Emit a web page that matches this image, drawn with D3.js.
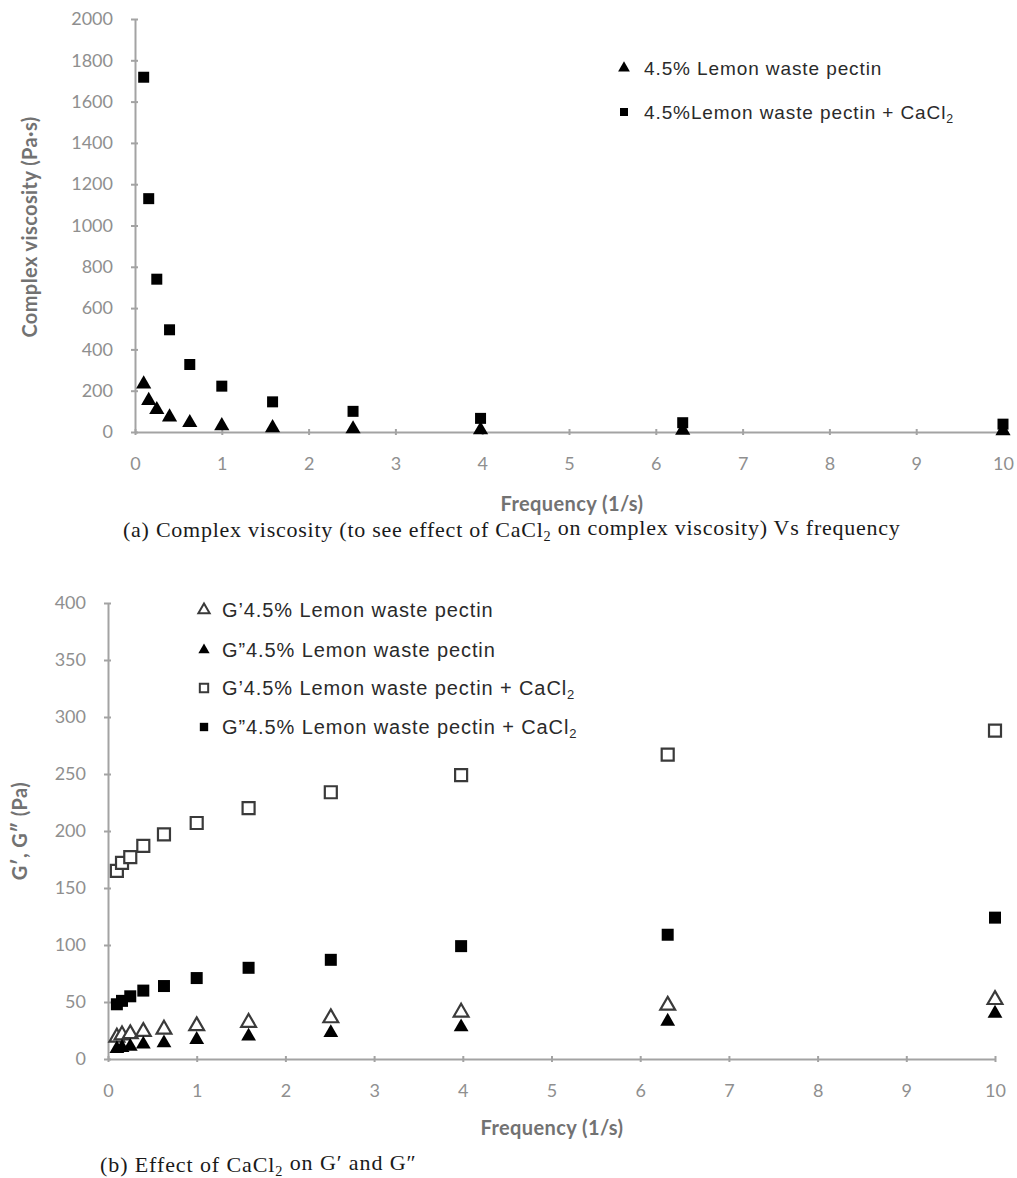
<!DOCTYPE html>
<html>
<head>
<meta charset="utf-8">
<script src="https://cdn.jsdelivr.net/npm/d3@7"></script>
<style>
  body { margin: 0; background: #fff; }
  .tick text { font-family: Lato, "Liberation Sans", sans-serif; font-size: 18px; fill: #8f8f8f; }
  .domain, .tick line { stroke: #a3a3a3; stroke-width: 2; }
</style>
</head>
<body>
<div id="canvas"></div>
<script>
// frequency sweep (1/s)
const frequency = [0.1, 0.158, 0.251, 0.398, 0.631, 1, 1.585, 2.512, 3.981, 6.31, 10];

// (a) complex viscosity, Pa·s
const viscPectin = [232, 152, 108, 72, 45, 30, 20, 15, 10, 8, 6];
const viscPectinCaCl2 = [1718, 1130, 740, 495, 327, 222, 146, 100, 66, 45, 38];

// (b) moduli, Pa
const gPrimePectin = [19, 21, 22, 24, 26, 29, 32, 36, 41, 47, 52];
const gDoublePectin = [9, 10, 11, 13, 14, 17, 20, 23, 28, 33, 40];
const gPrimeCaCl2 = [165, 172, 177, 187, 197, 207, 220, 234, 249, 267, 288];
const gDoubleCaCl2 = [48, 51, 55, 60, 64, 71, 80, 87, 99, 109, 124];

const freqTicks = [0, 1, 2, 3, 4, 5, 6, 7, 8, 9, 10];
const viscTicks = [0, 200, 400, 600, 800, 1000, 1200, 1400, 1600, 1800, 2000];
const modulusTicks = [0, 50, 100, 150, 200, 250, 300, 350, 400];

const svg = d3.select("#canvas").append("svg")
    .attr("width", 1017)
    .attr("height", 1178);

const tri = d3.symbol().type(d3.symbolTriangle);
const sq = d3.symbol().type(d3.symbolSquare);

function drawAxes(x, y, xTicks, yTicks) {
    const x0 = x.range()[0], y0 = y.range()[0];

    const gx = svg.append("g")
        .attr("transform", `translate(0,${y0})`)
        .call(d3.axisBottom(x).tickValues(xTicks).tickFormat(d3.format("d"))
            .tickSize(4).tickSizeOuter(0).tickPadding(21));
    gx.selectAll(".tick line").attr("y1", -3).attr("y2", 3);

    const gy = svg.append("g")
        .attr("transform", `translate(${x0},0)`)
        .call(d3.axisLeft(y).tickValues(yTicks).tickFormat(d3.format("d"))
            .tickSize(4).tickSizeOuter(0).tickPadding(18));
    gy.selectAll(".tick line").attr("x1", -4).attr("x2", 3);
}

function drawPoints(x, y, values, shape, size, open) {
    svg.append("g").selectAll("path")
        .data(values)
        .enter()
        .append("path")
        .attr("transform", (d, i) => `translate(${x(frequency[i])},${y(d)})`)
        .attr("d", shape.size(size)())
        .attr("fill", open ? "#fff" : "#000")
        .attr("stroke", open ? "#3a3a3a" : "none")
        .attr("stroke-width", 2.2);
}

// text with a CaCl2 subscript
function addLabel(g, pre, sub, post) {
    g.append("tspan").text(pre);
    if (sub) {
        g.append("tspan").attr("font-size", "0.65em").attr("dy", "0.3em").text(sub);
        g.append("tspan").attr("dy", "-0.3em").text(post || "");
    }
    return g;
}

function axisTitle(x, y, rotate, label) {
    svg.append("text")
        .attr("transform", `translate(${x},${y})` + (rotate ? " rotate(-90)" : ""))
        .attr("text-anchor", "middle")
        .style("font-family", "Lato, sans-serif")
        .style("font-size", "20px")
        .style("font-weight", "bold")
        .style("letter-spacing", "0.4px")
        .style("fill", "#727272")
        .text(label);
}

// ---------- (a) complex viscosity ----------
const xA = d3.scaleLinear().domain([0, 10]).range([135, 1003]);
const yA = d3.scaleLinear().domain([0, 2000]).range([432, 19]);

drawAxes(xA, yA, freqTicks, viscTicks);
drawPoints(xA, yA, viscPectin, tri, 100, false);
drawPoints(xA, yA, viscPectinCaCl2, sq, 121, false);

axisTitle(37, 227, true, "Complex viscosity (Pa·s)");
axisTitle(572, 511, false, "Frequency (1/s)");

addLabel(svg.append("text")
    .attr("x", 123).attr("y", 537)
    .style("font-family", "'Liberation Serif', serif")
    .style("font-size", "22px")
    .style("letter-spacing", "0.75px")
    .style("fill", "#1a1a1a"),
    "(a)  Complex viscosity (to see effect of CaCl", "2", " on complex viscosity) Vs frequency");

// legend (a)
const legendA = [
    { shape: tri, size: 60, pre: "4.5% Lemon waste pectin" },
    { shape: sq, size: 64, pre: "4.5%Lemon waste pectin + CaCl", sub: "2" }
];
legendA.forEach((d, i) => {
    const yy = 68 + i * 44;
    svg.append("path")
        .attr("transform", `translate(624,${yy})`)
        .attr("d", d.shape.size(d.size)())
        .attr("fill", "#000");
    addLabel(svg.append("text")
        .attr("x", 644).attr("y", yy + 7)
        .style("font-family", "'Liberation Sans', Arial, sans-serif")
        .style("font-size", "19px")
        .style("letter-spacing", "0.9px")
        .style("fill", "#2a2a2a"), d.pre, d.sub);
});

// ---------- (b) G' and G'' ----------
const xB = d3.scaleLinear().domain([0, 10]).range([108, 995]);
const yB = d3.scaleLinear().domain([0, 400]).range([1059, 603]);

drawAxes(xB, yB, freqTicks, modulusTicks);
drawPoints(xB, yB, gPrimePectin, tri, 95, true);
drawPoints(xB, yB, gDoublePectin, tri, 95, false);
drawPoints(xB, yB, gPrimeCaCl2, sq, 144, true);
drawPoints(xB, yB, gDoubleCaCl2, sq, 144, false);

axisTitle(27, 831, true, "G′, G″ (Pa)");
axisTitle(552, 1135, false, "Frequency (1/s)");

addLabel(svg.append("text")
    .attr("x", 100).attr("y", 1172)
    .style("font-family", "'Liberation Serif', serif")
    .style("font-size", "22px")
    .style("letter-spacing", "0.9px")
    .style("fill", "#1a1a1a"),
    "(b) Effect of CaCl", "2", " on G′ and G″");

// legend (b)
const legendB = [
    { shape: tri, size: 55, open: true, pre: "G’4.5% Lemon waste pectin" },
    { shape: tri, size: 55, open: false, pre: "G”4.5% Lemon waste pectin" },
    { shape: sq, size: 70, open: true, pre: "G’4.5% Lemon waste pectin + CaCl", sub: "2" },
    { shape: sq, size: 70, open: false, pre: "G”4.5% Lemon waste pectin + CaCl", sub: "2" }
];
legendB.forEach((d, i) => {
    const yy = [610, 650, 688, 727][i];
    svg.append("path")
        .attr("transform", `translate(204,${yy})`)
        .attr("d", d.shape.size(d.size)())
        .attr("fill", d.open ? "#fff" : "#000")
        .attr("stroke", d.open ? "#3a3a3a" : "none")
        .attr("stroke-width", 2);
    addLabel(svg.append("text")
        .attr("x", 222).attr("y", yy + 7)
        .style("font-family", "'Liberation Sans', Arial, sans-serif")
        .style("font-size", "20px")
        .style("letter-spacing", "0.9px")
        .style("fill", "#2a2a2a"), d.pre, d.sub);
});
</script>
</body>
</html>
